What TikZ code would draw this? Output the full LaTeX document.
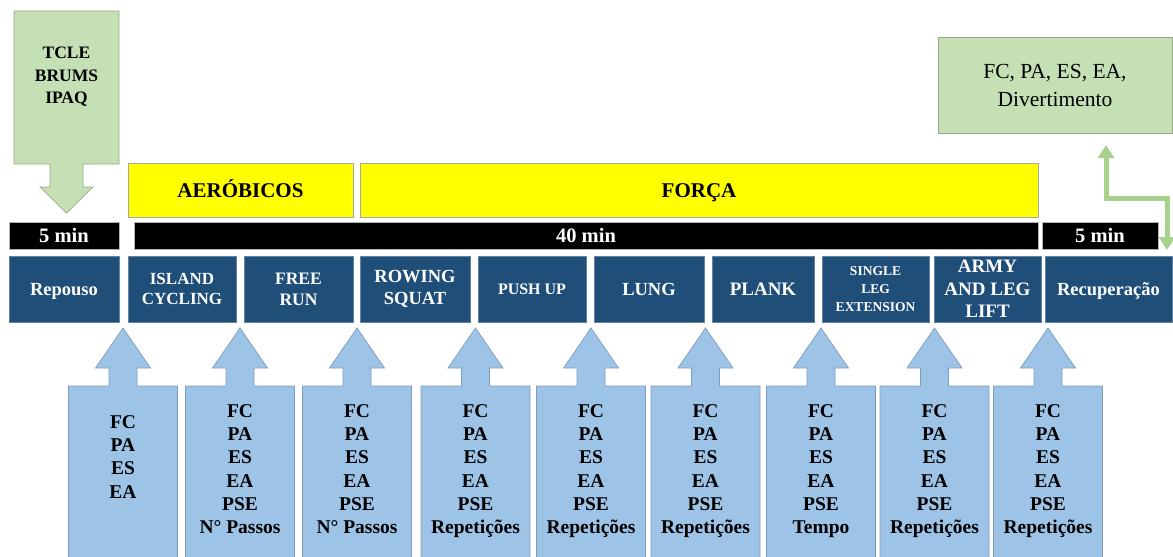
\documentclass[tikz,border=0pt]{standalone}
\usepackage{fontspec}
\setmainfont{Liberation Serif}
\usetikzlibrary{arrows.meta}
\definecolor{dkblue}{HTML}{1F4E79}
\definecolor{ltblue}{HTML}{9DC3E6}
\definecolor{ltblueedge}{HTML}{7F9CC0}
\definecolor{ltgreen}{HTML}{C5E0B4}
\definecolor{greenedge}{HTML}{94AC86}
\definecolor{greenline}{HTML}{A9D18E}
\definecolor{yel}{HTML}{FFFF00}
\newcommand\blueup[4]{%
  \draw[bluearrow] ({#2-54.5},560) -- ({#2-54.5},386) -- ({#2-14},386) -- ({#2-14},368) -- ({#2-27.5},368) -- (#2,328) -- ({#2+27.5},368) -- ({#2+14},368) -- ({#2+14},386) -- ({#2+54.5},386) -- ({#2+54.5},560);
  \node[bluetext, anchor=north] (#1) at (#2,#4) {#3};}
\begin{document}
\begin{tikzpicture}[x=1pt,y=-1pt,
  stepbox/.style={fill=dkblue, draw=dkblue!70!white, line width=0.6pt, text=white, align=center, inner sep=0pt, font=\bfseries},
  oneline/.style={text height=12.3pt, text depth=0pt},
  timebar/.style={fill=black, draw=gray!60, line width=0.6pt, text=white, inner sep=0pt, minimum height=27pt, text height=13pt, text depth=0pt, font=\bfseries\fontsize{20.5}{24}\selectfont},
  phasebox/.style={fill=yel, draw=gray!70, line width=0.6pt, text=black, inner sep=0pt, minimum height=54pt, text height=14pt, text depth=0pt, font=\bfseries\fontsize{21}{25}\selectfont},
  bluearrow/.style={fill=ltblue, draw=ltblueedge, line width=0.7pt, line join=miter},
  bluetext/.style={align=center, inner sep=0pt, font=\bfseries\fontsize{19.5}{23.3}\selectfont},
  greenshape/.style={fill=ltgreen, draw=greenedge, line width=0.7pt},
  greenarrow/.style={draw=greenline, line width=5pt, line join=miter, {Triangle[width=16pt,length=13pt]}-{Triangle[width=16pt,length=13pt]}}
]
\useasboundingbox (0,0) rectangle (1173,557);
\fill[white] (0,0) rectangle (1173,557);

% top-left green callout
\draw[greenshape] (14,11) -- (119,11) -- (119,164) -- (83,164) -- (83,187) -- (93,187) -- (66.5,213) -- (40,187) -- (50,187) -- (50,164) -- (14,164) -- cycle;
\node[align=center, inner sep=0pt, anchor=north, font=\bfseries\fontsize{17.5}{22.5}\selectfont] (tcle) at (66.5,47) {TCLE\\BRUMS\\IPAQ};

% top-right green box
\node[greenshape, minimum width=234pt, minimum height=96pt, inner sep=0pt, align=center, font=\fontsize{21.5}{28}\selectfont] (fcbox) at (1055,85) {FC, PA, ES, EA,\\Divertimento};

% phase boxes
\node[phasebox, minimum width=225pt] (aer) at (240.5,190) {AERÓBICOS};
\node[phasebox, minimum width=678pt] (forca) at (699,190) {FORÇA};

% time bars
\node[timebar, minimum width=110pt] (t1) at (64,235.5) {5 min};
\node[timebar, minimum width=904pt] (t2) at (586,235.5) {40 min};
\node[timebar, minimum width=116pt] (t3) at (1100,235.5) {5 min};

% step boxes
\node[stepbox, minimum width=110pt, minimum height=66pt, oneline, font=\bfseries\fontsize{18.5}{22}\selectfont] (repouso) at (64,289) {Repouso};
\node[stepbox, minimum width=108pt, minimum height=66pt, font=\bfseries\fontsize{17}{20}\selectfont] (island) at (182,289) {ISLAND\\CYCLING};
\node[stepbox, minimum width=109pt, minimum height=66pt, font=\bfseries\fontsize{17.5}{21}\selectfont] (free) at (298.5,289) {FREE\\RUN};
\node[stepbox, minimum width=110pt, minimum height=66pt, font=\bfseries\fontsize{18.5}{22}\selectfont] (rowing) at (415,289) {ROWING\\SQUAT};
\node[stepbox, minimum width=108pt, minimum height=66pt, text height=11pt, text depth=0pt, font=\bfseries\fontsize{16}{20}\selectfont] (push) at (532,289) {PUSH UP};
\node[stepbox, minimum width=110pt, minimum height=66pt, oneline, font=\bfseries\fontsize{18.5}{22}\selectfont] (lung) at (649,289) {LUNG};
\node[stepbox, minimum width=102pt, minimum height=66pt, oneline, font=\bfseries\fontsize{19}{22}\selectfont] (plank) at (763,289) {PLANK};
\node[stepbox, minimum width=107pt, minimum height=66pt, font=\bfseries\fontsize{13.5}{18}\selectfont] (single) at (875.5,289) {SINGLE\\LEG\\EXTENSION};
\node[stepbox, minimum width=107pt, minimum height=66pt, font=\bfseries\fontsize{19}{22.5}\selectfont] (army) at (987.5,289) {ARMY\\AND LEG\\LIFT};
\node[stepbox, minimum width=127pt, minimum height=66pt, oneline, font=\bfseries\fontsize{18.5}{22}\selectfont] (recup) at (1108.5,289) {Recuperação};

% green double elbow arrow
\coordinate (arrtop) at (1106,145);
\coordinate (arrbot) at (1167,250);
\draw[greenarrow] (arrtop) -- (arrtop |- 0,198) -- (arrbot |- 0,198) -- (arrbot);

% bottom blue arrows
\blueup{m1}{123}{FC\\PA\\ES\\EA}{415}
\blueup{m2}{240}{FC\\PA\\ES\\EA\\PSE\\N° Passos}{404}
\blueup{m3}{357}{FC\\PA\\ES\\EA\\PSE\\N° Passos}{404}
\blueup{m4}{475.5}{FC\\PA\\ES\\EA\\PSE\\Repetições}{404}
\blueup{m5}{591}{FC\\PA\\ES\\EA\\PSE\\Repetições}{404}
\blueup{m6}{705.5}{FC\\PA\\ES\\EA\\PSE\\Repetições}{404}
\blueup{m7}{821}{FC\\PA\\ES\\EA\\PSE\\Tempo}{404}
\blueup{m8}{934.5}{FC\\PA\\ES\\EA\\PSE\\Repetições}{404}
\blueup{m9}{1048}{FC\\PA\\ES\\EA\\PSE\\Repetições}{404}
\end{tikzpicture}
\end{document}
